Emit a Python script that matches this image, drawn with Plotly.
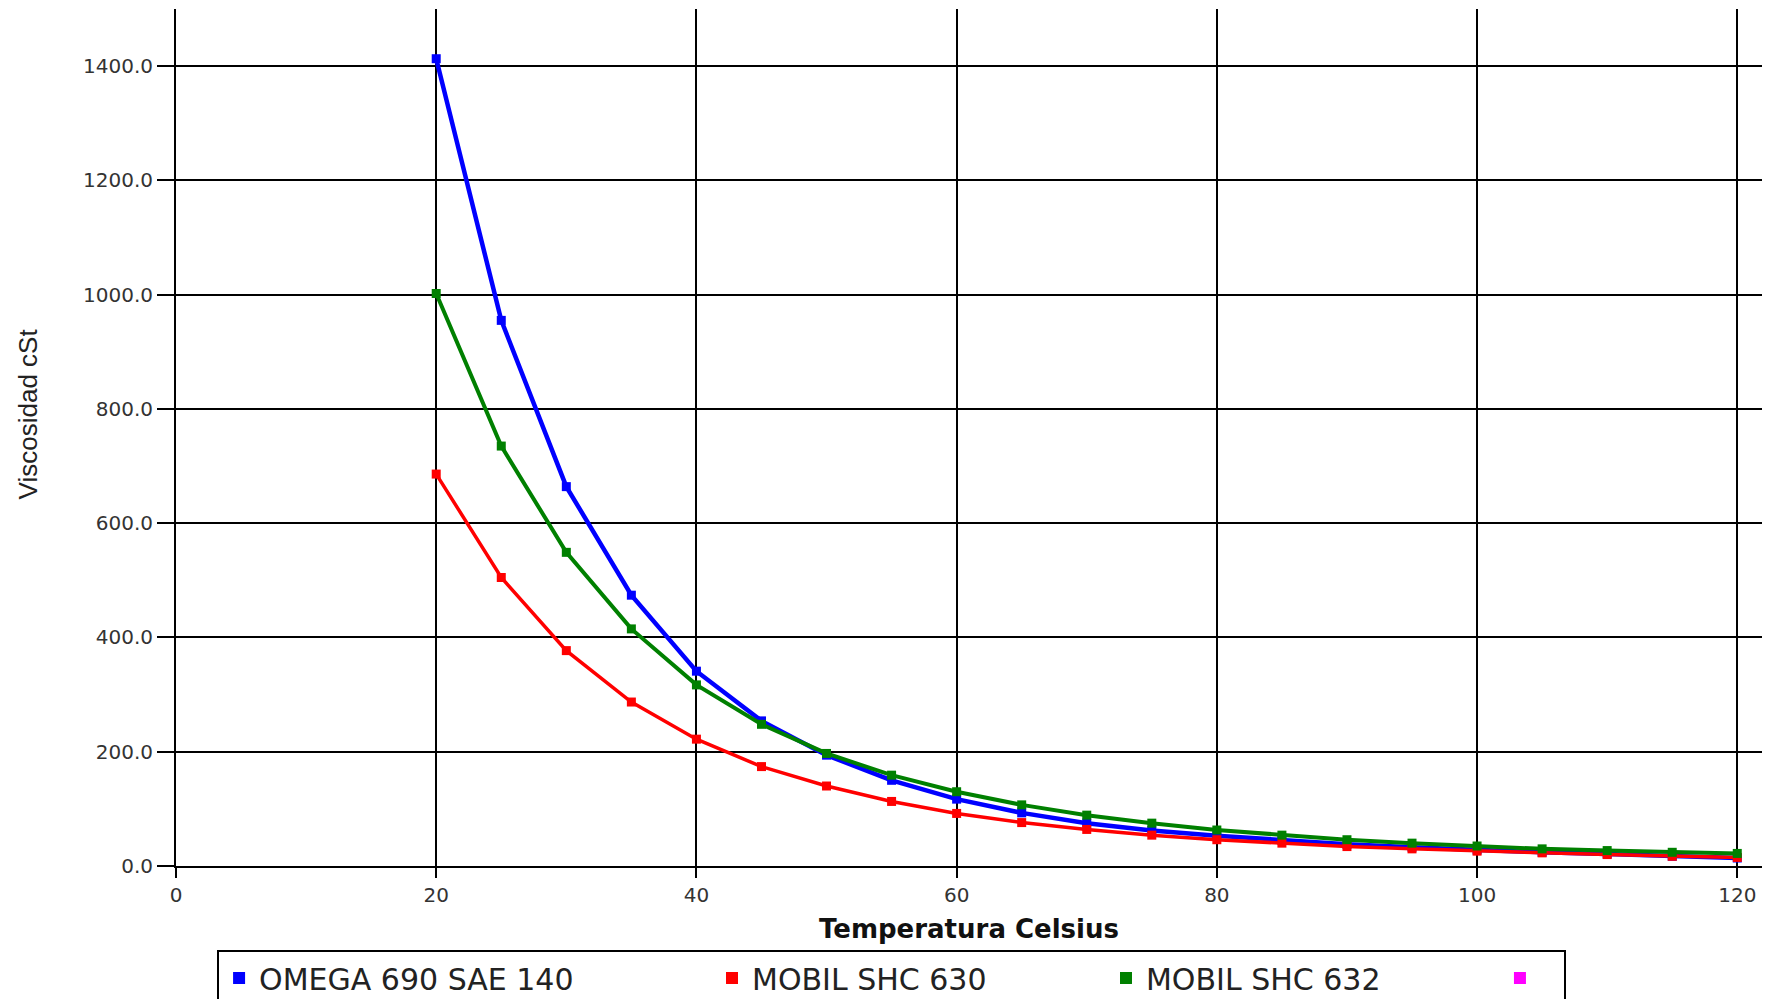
import plotly.graph_objects as go

# Temperatura (°C)
temperatura = [20, 25, 30, 35, 40, 45, 50, 55, 60, 65, 70, 75, 80, 85, 90, 95, 100, 105, 110, 115, 120]

# Viscosidad cSt por aceite
omega_690 = [1413, 955, 664, 474, 341, 254, 194, 150, 117, 93, 75, 62, 53, 45, 38, 33, 28, 24, 21, 17, 14]
mobil_630 = [686, 505, 377, 287, 222, 174, 140, 113, 92, 76, 64, 54, 46, 40, 34, 30, 26, 23, 20, 17, 15]
mobil_632 = [1002, 735, 549, 415, 317, 248, 197, 159, 130, 107, 89, 75, 63, 54, 46, 40, 35, 30, 27, 24, 22]
# fourth legend entry: a series with no values
extra_x = [None]
extra_y = [None]

series_names = ["OMEGA 690 SAE 140", "MOBIL SHC 630", "MOBIL SHC 632", " "]
series_colors = ["#0000FF", "#FF0000", "#008000", "#FF00FF"]
line_widths = [4.5, 3.5, 4, 3]
# trailing non-breaking spaces to reproduce the legend entry spacing
legend_pad = [14, 12, 12, 1]

x_ticks = [0, 20, 40, 60, 80, 100, 120]
y_ticks = [0, 200, 400, 600, 800, 1000, 1200, 1400]

fig = go.Figure()

all_series = [omega_690, mobil_630, mobil_632]
for vals, name, color, lw, pad in zip(all_series, series_names, series_colors, line_widths, legend_pad):
    fig.add_trace(go.Scatter(
        x=temperatura, y=vals, mode="lines", name=name, legendgroup=name,
        showlegend=False, line=dict(color=color, width=lw),
        hoverinfo="skip",
    ))
    fig.add_trace(go.Scatter(
        x=temperatura, y=vals, mode="markers", name=name + "\u00a0" * pad, legendgroup=name,
        marker=dict(color=color, size=9, symbol="square"),
    ))

fig.add_trace(go.Scatter(
    x=extra_x, y=extra_y, mode="markers", name=series_names[3] + "\u00a0" * legend_pad[3],
    marker=dict(color=series_colors[3], size=9, symbol="square"),
))

axis_font = dict(family="DejaVu Sans", size=20, color="#333333")

fig.update_layout(
    width=1768, height=999,
    margin=dict(l=176, r=6, t=9, b=133, autoexpand=False),
    paper_bgcolor="white", plot_bgcolor="white",
    showlegend=True,
    legend=dict(
        orientation="h", x=0.0259, y=-0.098, xanchor="left", yanchor="top",
        bordercolor="black", borderwidth=2, bgcolor="white",
        font=dict(family="DejaVu Sans", size=30, color="#222222"),
        itemsizing="constant", traceorder="normal",
    ),
    xaxis=dict(
        range=[0, 121.9], tickvals=x_ticks, ticktext=[str(v) for v in x_ticks],
        showgrid=True, gridcolor="black", gridwidth=2,
        showline=True, linecolor="black", linewidth=2,
        ticks="outside", ticklen=10, tickwidth=2, tickcolor="black",
        zeroline=False, tickfont=axis_font,
        title=dict(text="Temperatura Celsius", standoff=14,
                   font=dict(family="DejaVu Sans", size=26, color="#111111", weight="bold")),
        automargin=False,
    ),
    yaxis=dict(
        range=[0, 1500], tickvals=y_ticks, ticktext=[f"{v:.1f}" for v in y_ticks],
        showgrid=True, gridcolor="black", gridwidth=2,
        showline=True, linecolor="black", linewidth=2,
        ticks="outside", ticklen=17, tickwidth=2, tickcolor="black",
        zeroline=False, tickfont=axis_font,
        automargin=False,
    ),
    annotations=[dict(
        text="Viscosidad cSt", textangle=-90, showarrow=False,
        xref="paper", yref="paper", x=-0.0933, y=0.527,
        xanchor="center", yanchor="middle",
        font=dict(family="Liberation Sans", size=26, color="#222222"),
    )],
)

fig.write_html("out.html")
